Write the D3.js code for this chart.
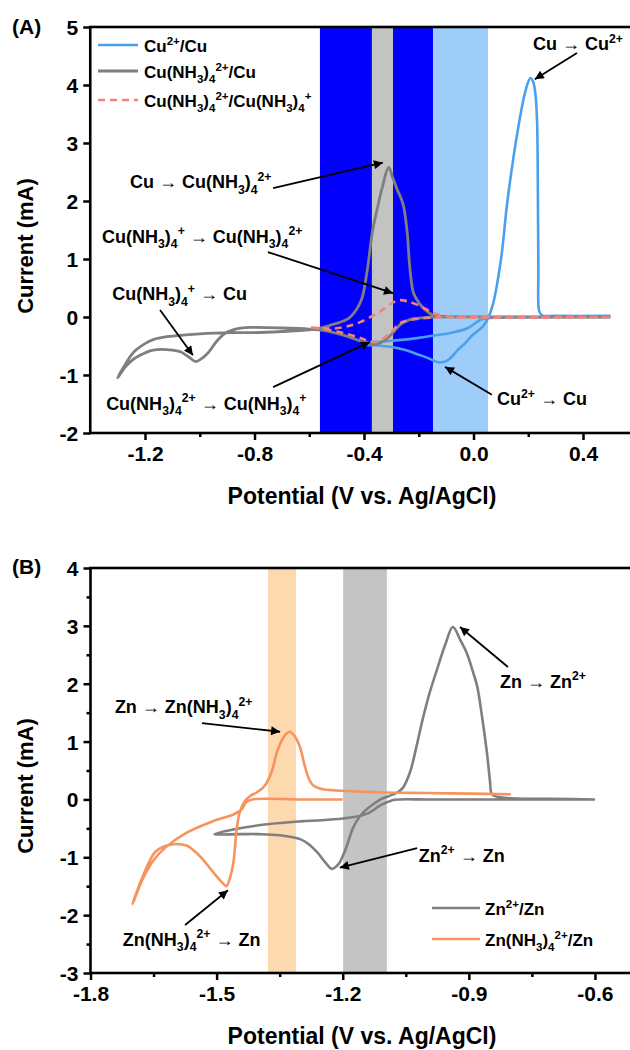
<!DOCTYPE html>
<html><head><meta charset="utf-8">
<script src="https://cdn.jsdelivr.net/npm/d3@7"></script>
<style>
body{margin:0;background:#fff}
svg{display:block}
text{font-family:"Liberation Sans",Arial,sans-serif;font-weight:bold;fill:#000}
</style>
</head><body><div id="chart"></div>
<script>
// ---------- Panel A data (Potential V vs Ag/AgCl, Current mA) ----------
const cuPot = [0.5, 0.3, 0.1, 0.05, 0.025, -0.02, -0.08, -0.146, -0.2, -0.25, -0.3, -0.35, -0.4,
  -0.4, -0.35, -0.31, -0.25, -0.2, -0.17, -0.128, -0.1, -0.08, -0.058, -0.03, -0.01, 0.015, 0.033, 0.05, 0.07, 0.1, 0.124, 0.16, 0.19, 0.208, 0.218, 0.226, 0.232, 0.235, 0.237, 0.24, 0.25, 0.3, 0.5];
const cuCur = [0.0, 0.0, -0.01, -0.02, -0.05, -0.19, -0.27, -0.32, -0.36, -0.39, -0.41, -0.43, -0.45,
  -0.47, -0.49, -0.51, -0.57, -0.65, -0.7, -0.78, -0.76, -0.69, -0.57, -0.45, -0.34, -0.24, -0.17, -0.05, 0.2, 0.98, 2.0, 3.17, 3.9, 4.12, 4.05, 3.85, 3.4, 2.3, 0.8, 0.1, 0.03, 0.02, 0.02];

const amPot = [0.5, 0.2, -0.146, -0.18, -0.22, -0.25, -0.27, -0.3, -0.33, -0.35, -0.38, -0.4, -0.45, -0.51, -0.55, -0.6, -0.7, -0.8, -0.85, -0.9, -0.935, -0.97, -1.0, -1.015, -1.04, -1.07, -1.1, -1.17, -1.2, -1.24, -1.27, -1.3,
  -1.27, -1.24, -1.2, -1.17, -1.12, -1.0, -0.88, -0.8, -0.7, -0.6, -0.56, -0.5, -0.475, -0.45, -0.41, -0.39, -0.383, -0.37, -0.35, -0.333, -0.31, -0.295, -0.278, -0.265, -0.255, -0.242, -0.235, -0.228, -0.219, -0.2, -0.183, -0.146, -0.1, 0.2, 0.5];
const amCur = [0.0, 0.0, 0.0, -0.01, -0.03, -0.08, -0.14, -0.3, -0.42, -0.47, -0.47, -0.44, -0.35, -0.27, -0.23, -0.21, -0.19, -0.18, -0.19, -0.26, -0.4, -0.62, -0.74, -0.77, -0.69, -0.6, -0.57, -0.57, -0.62, -0.72, -0.85, -1.05,
  -0.8, -0.6, -0.46, -0.39, -0.34, -0.29, -0.27, -0.27, -0.25, -0.22, -0.19, -0.11, -0.07, 0.0, 0.29, 0.75, 0.98, 1.45, 1.9, 2.24, 2.58, 2.4, 2.19, 2.05, 1.9, 1.45, 0.98, 0.65, 0.41, 0.25, 0.15, 0.03, 0.01, 0.0, 0.0];

const redPot = [0.5, -0.08, -0.146, -0.2, -0.25, -0.27, -0.3, -0.34, -0.37, -0.42, -0.49, -0.56, -0.6,
  -0.56, -0.51, -0.46, -0.41, -0.35, -0.31, -0.29, -0.27, -0.24, -0.2, -0.146, -0.1, -0.08, 0.5];
const redCur = [0.0, 0.0, -0.01, -0.03, -0.07, -0.11, -0.26, -0.4, -0.43, -0.35, -0.26, -0.2, -0.18,
  -0.19, -0.2, -0.16, -0.08, 0.07, 0.2, 0.26, 0.29, 0.27, 0.2, 0.07, 0.02, 0.0, 0.0];

// ---------- Panel B data ----------
const znPot = [-0.6, -0.8, -1.0, -1.065, -1.08, -1.095, -1.11, -1.14, -1.17, -1.2, -1.25, -1.3, -1.38, -1.46, -1.505,
  -1.445, -1.4, -1.35, -1.3, -1.28, -1.26, -1.24, -1.226, -1.21, -1.2, -1.19, -1.176, -1.16, -1.143, -1.125, -1.11, -1.09, -1.07, -1.057, -1.04, -1.025, -1.01, -0.993, -0.976, -0.955, -0.938, -0.92, -0.905, -0.89, -0.88, -0.87, -0.857, -0.85, -0.845, -0.83, -0.8, -0.7, -0.6];
const znCur = [0.0, 0.0, 0.0, 0.0, -0.01, -0.05, -0.1, -0.24, -0.3, -0.33, -0.36, -0.38, -0.43, -0.52, -0.6,
  -0.6, -0.6, -0.62, -0.69, -0.78, -0.92, -1.1, -1.2, -1.12, -0.98, -0.8, -0.5, -0.3, -0.17, -0.07, 0.0, 0.06, 0.12, 0.2, 0.47, 0.9, 1.38, 1.85, 2.24, 2.7, 2.98, 2.75, 2.53, 2.2, 1.95, 1.5, 0.81, 0.34, 0.09, 0.04, 0.02, 0.01, 0.0];

const znAmPot = [-1.2, -1.3, -1.415, -1.43, -1.44, -1.46, -1.51, -1.57, -1.62, -1.65, -1.676, -1.7,
  -1.685, -1.665, -1.645, -1.62, -1.595, -1.57, -1.555, -1.54, -1.52, -1.5, -1.485, -1.477, -1.468, -1.46, -1.453, -1.445, -1.433, -1.42, -1.405, -1.39, -1.38, -1.368, -1.357, -1.345, -1.335, -1.326, -1.315, -1.302, -1.29, -1.28, -1.27, -1.25, -1.2, -1.1, -1.0, -0.9, -0.8];
const znAmCur = [0.0, 0.0, 0.0, -0.05, -0.17, -0.26, -0.38, -0.57, -0.82, -1.05, -1.38, -1.81,
  -1.5, -1.15, -0.9, -0.8, -0.77, -0.8, -0.88, -0.98, -1.15, -1.33, -1.45, -1.5, -1.35, -1.09, -0.57, -0.22, -0.03, 0.06, 0.12, 0.2, 0.3, 0.5, 0.81, 1.02, 1.13, 1.17, 1.1, 0.91, 0.57, 0.35, 0.24, 0.18, 0.15, 0.12, 0.11, 0.1, 0.09];

// ---------- Axes / ticks ----------
const aXDomain = [-1.4, 0.6], aYDomain = [-2, 5];
const aXTicks = [-1.2, -0.8, -0.4, 0.0, 0.4];
const aXMinor = [-1.0, -0.6, -0.2, 0.2];
const aYTicks = [-2, -1, 0, 1, 2, 3, 4, 5];
const bXDomain = [-1.8, -0.5], bYDomain = [-3, 4];
const bXTicks = [-1.8, -1.5, -1.2, -0.9, -0.6];
const bXMinor = [-1.65, -1.35, -1.05, -0.75];
const bYTicks = [-3, -2, -1, 0, 1, 2, 3, 4];
const bYMinor = [-2.5, -1.5, -0.5, 0.5, 1.5, 2.5, 3.5];

// ---------- Highlight bands (potential ranges) ----------
const aBands = [[-0.561, -0.371], [-0.371, -0.294], [-0.294, -0.148], [-0.148, 0.053]];
const aBandColors = ["#0000fb", "#c3c3c3", "#0000fb", "#9ecdfa"];
const bBands = [[-1.378, -1.311], [-1.199, -1.095]];
const bBandColors = ["#fdd9b0", "#c4c4c4"];

// ---------- Annotations (data coords: text x, text baseline y, arrow from, arrow to) ----------
const aNoteText = ["Cu → Cu^{2+}", "Cu → Cu(NH_3)_4^{2+}", "Cu(NH_3)_4^+ → Cu(NH_3)_4^{2+}", "Cu(NH_3)_4^+ → Cu", "Cu(NH_3)_4^{2+} → Cu(NH_3)_4^+", "Cu^{2+} → Cu"];
const aNoteTx = [0.217, -1.255, -1.357, -1.32, -1.342, 0.086];
const aNoteTy = [4.60, 2.22, 1.28, 0.29, -1.60, -1.52];
const aArrowFrom = [[0.378, 4.55], [-0.732, 2.22], [-0.751, 1.12], [-1.145, 0.12], [-0.732, -1.21], [0.067, -1.34]];
const aArrowTo = [[0.224, 4.10], [-0.331, 2.66], [-0.294, 0.41], [-1.025, -0.66], [-0.378, -0.43], [-0.104, -0.86]];

const bNoteText = ["Zn → Zn(NH_3)_4^{2+}", "Zn → Zn^{2+}", "Zn^{2+} → Zn", "Zn(NH_3)_4^{2+} → Zn"];
const bNoteTx = [-1.742, -0.826, -1.019, -1.723];
const bNoteTy = [1.49, 1.93, -1.08, -2.53];
const bArrowFrom = [[-1.535, 1.32], [-0.807, 2.29], [-1.023, -0.84], [-1.575, -2.17]];
const bArrowTo = [[-1.349, 1.17], [-0.921, 2.98], [-1.207, -1.18], [-1.473, -1.57]];

// ---------- Legends ----------
const aLegend = ["Cu^{2+}/Cu", "Cu(NH_3)_4^{2+}/Cu", "Cu(NH_3)_4^{2+}/Cu(NH_3)_4^+"];
const bLegend = ["Zn^{2+}/Zn", "Zn(NH_3)_4^{2+}/Zn"];

// ---------- Styles ----------
const cBlue = "#4aa0ef", cGray = "#7f7f7f", cPink = "#f4827c", cOrange = "#f7935c";

const W = 630, H = 1050;
const svg = d3.select("#chart").append("svg").attr("width", W).attr("height", H);
const defs = svg.append("defs");
defs.append("marker").attr("id", "ah").attr("viewBox", "0 0 10 10").attr("refX", 10).attr("refY", 5)
  .attr("markerWidth", 12).attr("markerHeight", 9).attr("markerUnits", "userSpaceOnUse").attr("orient", "auto")
  .append("path").attr("d", "M0,0 L10,5 L0,10 z").attr("fill", "#000");

function rich(g, str, x, y, size, anchor) {
  const t = g.append("text").attr("x", x).attr("y", y).attr("font-size", size).style("white-space", "pre");
  if (anchor) t.attr("text-anchor", anchor);
  let cur = 0, i = 0;
  while (i < str.length) {
    const c = str[i]; let type = "n", txt = "";
    if (c === "_" || c === "^") {
      type = c === "_" ? "sub" : "sup"; i++;
      if (str[i] === "{") { const j = str.indexOf("}", i); txt = str.slice(i + 1, j); i = j + 1; }
      else { txt = str[i]; i++; }
    } else {
      let j = i; while (j < str.length && str[j] !== "_" && str[j] !== "^") j++;
      txt = str.slice(i, j); i = j;
    }
    const target = type === "n" ? 0 : (type === "sub" ? size * 0.3 : -size * 0.42);
    t.append("tspan").attr("dy", target - cur).attr("font-size", type === "n" ? size : size * 0.68).text(txt);
    cur = target;
  }
  return t;
}

function panel(cfg) {
  const g = svg.append("g");
  const x = d3.scaleLinear().domain(cfg.xDomain).range([cfg.left, cfg.right]);
  const y = d3.scaleLinear().domain(cfg.yDomain).range([cfg.bottom, cfg.top]);

  // bands
  cfg.bands.forEach((b, i) => {
    g.append("rect").attr("x", x(b[0])).attr("width", x(b[1]) - x(b[0]))
      .attr("y", y(cfg.yDomain[1])).attr("height", y(cfg.yDomain[0]) - y(cfg.yDomain[1]))
      .attr("fill", cfg.bandColors[i]);
  });

  // curves
  const line = d3.line().x(d => x(d[0])).y(d => y(d[1])).curve(d3.curveCatmullRom.alpha(0.5));
  cfg.series.forEach(s => {
    const pts = s.pot.map((p, i) => [p, s.cur[i]]);
    g.append("path").attr("d", line(pts)).attr("fill", "none").attr("stroke", s.color)
      .attr("stroke-width", s.width || 2.6).attr("stroke-dasharray", s.dash || null)
      .attr("stroke-linejoin", "round");
  });

  // axes
  const xAxis = d3.axisBottom(x).tickValues(cfg.xTicks).tickSize(7).tickSizeOuter(0).tickPadding(6)
    .tickFormat(d => d.toFixed(1));
  const gx = g.append("g").attr("transform", `translate(0,${cfg.bottom})`).call(xAxis);
  const yAxis = d3.axisLeft(y).tickValues(cfg.yTicks).tickSize(7).tickSizeOuter(0).tickPadding(5)
    .tickFormat(d => String(d));
  const gy = g.append("g").attr("transform", `translate(${cfg.left},0)`).call(yAxis);
  [gx, gy].forEach(a => {
    a.select(".domain").remove();
    a.selectAll(".tick line").attr("stroke", "#000").attr("stroke-width", 2.5);
    a.selectAll(".tick text").attr("font-size", 21).attr("fill", "#000")
      .style("font-family", '"Liberation Sans",Arial,sans-serif').style("font-weight", "bold");
  });
  gy.selectAll(".tick text").attr("dy", "0.36em");
  const gxm = g.append("g").attr("transform", `translate(0,${cfg.bottom})`)
    .call(d3.axisBottom(x).tickValues(cfg.xMinor).tickSize(4).tickSizeOuter(0).tickFormat(""));
  gxm.select(".domain").remove();
  gxm.selectAll(".tick line").attr("stroke", "#000").attr("stroke-width", 2.5);
  if (cfg.yMinor) {
    const gym = g.append("g").attr("transform", `translate(${cfg.left},0)`)
      .call(d3.axisLeft(y).tickValues(cfg.yMinor).tickSize(4).tickSizeOuter(0).tickFormat(""));
    gym.select(".domain").remove();
    gym.selectAll(".tick line").attr("stroke", "#000").attr("stroke-width", 2.5);
  }
  // frame
  g.append("rect").attr("x", cfg.left).attr("y", cfg.top).attr("width", cfg.right - cfg.left)
    .attr("height", cfg.bottom - cfg.top).attr("fill", "none").attr("stroke", "#000").attr("stroke-width", 2.6);

  // axis titles
  g.append("text").attr("x", 362).attr("y", cfg.xTitleY).attr("text-anchor", "middle")
    .attr("font-size", 23).text("Potential (V vs. Ag/AgCl)");
  g.append("text").attr("transform", `translate(${cfg.yTitleX},${cfg.yTitleCY}) rotate(-90)`)
    .attr("text-anchor", "middle").attr("font-size", 22).text("Current (mA)");
  // panel label
  g.append("text").attr("x", 12).attr("y", cfg.labelY).attr("font-size", 21).text(cfg.label);

  // annotations
  cfg.notes.text.forEach((t, i) => {
    rich(g, t, x(cfg.notes.tx[i]), y(cfg.notes.ty[i]), 18);
    g.append("line").attr("x1", x(cfg.notes.from[i][0])).attr("y1", y(cfg.notes.from[i][1]))
      .attr("x2", x(cfg.notes.to[i][0])).attr("y2", y(cfg.notes.to[i][1]))
      .attr("stroke", "#000").attr("stroke-width", 1.8).attr("marker-end", "url(#ah)");
  });

  // legend
  cfg.legend.items.forEach((t, i) => {
    const s = cfg.series[cfg.legend.order[i]];
    const ly = cfg.legend.lineY[i];
    g.append("line").attr("x1", cfg.legend.x1).attr("x2", cfg.legend.x2).attr("y1", ly).attr("y2", ly)
      .attr("stroke", s.color).attr("stroke-width", s.width || 2.6).attr("stroke-dasharray", s.dash || null);
    rich(g, t, cfg.legend.tx, ly + 7, 17);
  });
}

panel({
  left: 90.25, right: 637.75, top: 27, bottom: 433,
  xDomain: aXDomain, yDomain: aYDomain, xTicks: aXTicks, xMinor: aXMinor, yTicks: aYTicks, yMinor: null,
  bands: aBands, bandColors: aBandColors,
  series: [
    { pot: cuPot, cur: cuCur, color: cBlue, width: 2.6 },
    { pot: amPot, cur: amCur, color: cGray, width: 2.8 },
    { pot: redPot, cur: redCur, color: cPink, width: 2.6, dash: "7,5" }
  ],
  xTitleY: 504, yTitleX: 33, yTitleCY: 246, label: "(A)", labelY: 34,
  notes: { text: aNoteText, tx: aNoteTx, ty: aNoteTy, from: aArrowFrom, to: aArrowTo },
  legend: { items: aLegend, order: [0, 1, 2], lineY: [45, 71, 100], x1: 98, x2: 138, tx: 144 }
});

panel({
  left: 90.5, right: 637, top: 568, bottom: 973,
  xDomain: bXDomain, yDomain: bYDomain, xTicks: bXTicks, xMinor: bXMinor, yTicks: bYTicks, yMinor: bYMinor,
  bands: bBands, bandColors: bBandColors,
  series: [
    { pot: znPot, cur: znCur, color: cGray, width: 2.6 },
    { pot: znAmPot, cur: znAmCur, color: cOrange, width: 2.6 }
  ],
  xTitleY: 1044, yTitleX: 33, yTitleCY: 786, label: "(B)", labelY: 574,
  notes: { text: bNoteText, tx: bNoteTx, ty: bNoteTy, from: bArrowFrom, to: bArrowTo },
  legend: { items: bLegend, order: [0, 1], lineY: [908, 939], x1: 432, x2: 480, tx: 485 }
});
</script>
</body></html>
